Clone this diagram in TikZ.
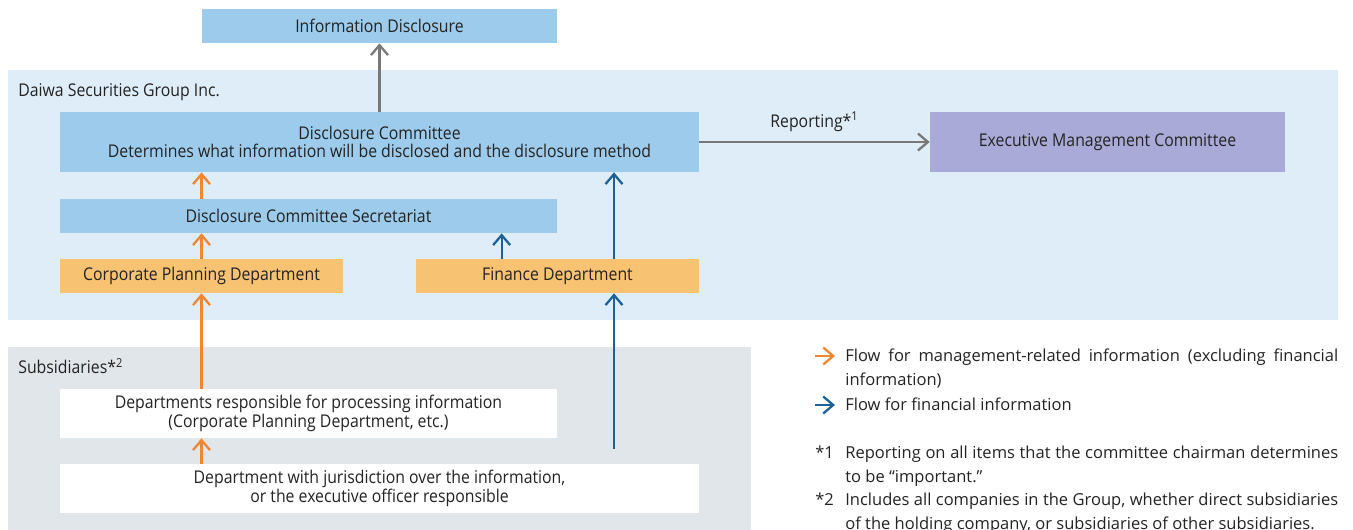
\documentclass[tikz,border=0pt]{standalone}
\usepackage{fontspec}
\setmainfont{Open Sans}
\newfontfamily\boxfont{Open Sans}[FakeStretch=0.9]
\usetikzlibrary{arrows.meta,calc}
\hyphenpenalty=10000
\exhyphenpenalty=10000

\definecolor{txtgray}{RGB}{35,35,35}
\definecolor{boxblue}{RGB}{157,203,235}
\definecolor{boxorange}{RGB}{248,194,115}
\definecolor{boxpurple}{RGB}{170,170,216}
\definecolor{grpblue}{RGB}{223,237,248}
\definecolor{subgray}{RGB}{225,230,235}
\definecolor{flowor}{RGB}{238,135,50}
\definecolor{flowbl}{RGB}{28,98,148}
\definecolor{flowgr}{RGB}{120,120,120}

\tikzset{
  box/.style={inner sep=0pt, align=center, text=txtgray,
    font=\boxfont\fontsize{10}{10.4}\selectfont},
  bluebox/.style={box, fill=boxblue},
  orangebox/.style={box, fill=boxorange},
  whitebox/.style={box, fill=white},
  flow/.style={line width=1.3pt, -{Straight Barb[length=0.2cm,width=0.34cm,line width=1.3pt]}},
  orflow/.style={flow, draw=flowor},
  blflow/.style={flow, draw=flowbl},
  grflow/.style={flow, draw=flowgr},
  legtext/.style={inner sep=0pt, anchor=north west, text=txtgray,
    font=\fontsize{9.4}{13.6}\selectfont}
}

\begin{document}
\begin{tikzpicture}[x=0.02cm,y=-0.02cm]
	\useasboundingbox (0,0) rectangle (1353,530);
	
	% group areas
	\fill[grpblue] (8,70) rectangle (1338,320);
	\fill[subgray] (8,347) rectangle (751,530);
	\node[box, anchor=base west] (grp) at (18,97) {Daiwa Securities Group Inc.};
	\node[box, anchor=base west] (sub) at (18,374) {Subsidiaries*\textsuperscript{2}};
	
	\node[bluebox, minimum width=7.1cm, minimum height=0.68cm] (info) at (379.5,26) {Information Disclosure};
	\node[bluebox, minimum width=12.78cm, minimum height=1.2cm] (dc) at (379.5,142) {Disclosure Committee\\Determines what information will be disclosed and the disclosure method};
	\node[box, fill=boxpurple, minimum width=7.1cm, minimum height=1.2cm] (emc) at (1107.5,142) {Executive Management Committee};
	\node[bluebox, minimum width=9.94cm, minimum height=0.68cm] (sec) at (308.5,216) {Disclosure Committee Secretariat};
	\node[orangebox, minimum width=5.66cm, minimum height=0.68cm] (cpd) at (201.5,276) {Corporate Planning Department};
	\node[orangebox, minimum width=5.66cm, minimum height=0.68cm] (fin) at (557.5,276) {Finance Department};
	\node[whitebox, minimum width=9.94cm, minimum height=0.98cm] (resp) at (308.5,413.5) {Departments responsible for processing information\\(Corporate Planning Department, etc.)};
	\node[whitebox, minimum width=12.78cm, minimum height=0.98cm] (jur) at (379.5,488.5) {Department with jurisdiction over the information,\\or the executive officer responsible};
	
	% connectors
	\draw[grflow] (dc) -- (info);
	\draw[grflow] (dc.east) -- node[box, above=0.19cm] (rep) {Reporting*\textsuperscript{1}} (emc.west);
	
	\draw[orflow] (sec.north -| cpd.north) -- (dc.south -| cpd.north);
	\draw[orflow] (cpd.north) -- (sec.south -| cpd.north);
	\draw[orflow] (resp.north -| cpd.south) -- (cpd.south);
	\draw[orflow] (jur.north -| cpd.south) -- (resp.south -| cpd.south);
	
	\coordinate (finsec) at ([xshift=1.72cm]fin.north west);
	\coordinate (findc) at ([xshift=1.13cm]fin.north);
	\coordinate (subtop) at (614,449);
	\draw[blflow] (finsec) -- (finsec |- sec.south);
	\draw[blflow] (findc) -- (findc |- dc.south);
	\draw[blflow] (subtop) -- (subtop |- fin.south);
	
	% legend
	\node[legtext, text width=9.86cm, align=justify] (lg1) at (845,349) {Flow for management-related information (excluding financial information)};
	\node[legtext] (lg2) at (845,398) {Flow for financial information};
	\coordinate (k1) at (815,356);
	\coordinate (k2) at (815,405);
	\draw[orflow, line width=1pt, shorten >=0.2cm] (k1) -- (k1 -| lg1.west);
	\draw[blflow, line width=1pt, shorten >=0.2cm] (k2) -- (k2 -| lg2.west);
	
	\node[legtext] (n1) at (815,446) {*1};
	\node[legtext, text width=9.86cm, align=justify] (nt1) at (845,446) {Reporting on all items that the committee chairman determines to be ``important.''};
	\node[legtext] (n2) at (815,493) {*2};
	\node[legtext, text width=9.86cm, align=justify] (nt2) at (845,493) {Includes all companies in the Group, whether direct subsidiaries of the holding company, or subsidiaries of other subsidiaries.};
\end{tikzpicture}
\end{document}
